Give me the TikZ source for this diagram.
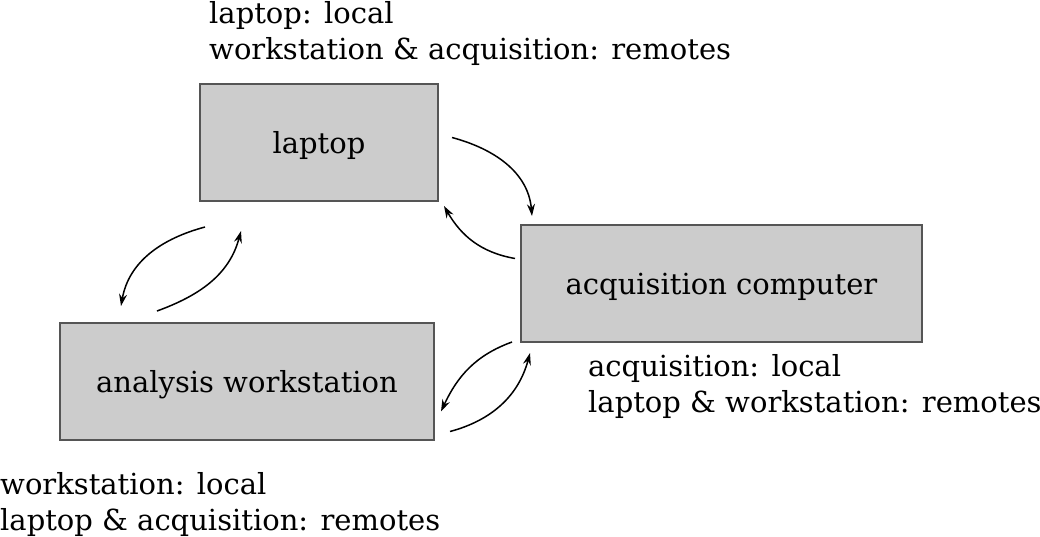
\documentclass[tikz,border=0pt]{standalone}
\usepackage{fontspec}
\setmainfont{DejaVu Serif}
\usetikzlibrary{arrows.meta}
\definecolor{boxFill}{RGB}{204, 204, 204}
\definecolor{boxLine}{RGB}{85, 85, 85}

\begin{document}
\begin{tikzpicture}[x=1pt, y=-1pt,
    every node/.style={font=\fontsize{29}{36}\selectfont},
    machine/.style={draw=boxLine, fill=boxFill, line width=2pt,
      minimum width=238pt, minimum height=117pt, inner sep=0pt, text depth=0pt},
    note/.style={align=left, anchor=north west, inner sep=0pt},
    link/.style={line width=1.5pt, -{Stealth[length=12pt, width=8pt, inset=4pt]}}]
        \useasboundingbox (0,0) rectangle (1040,536);
        \node[machine] (laptop) at (319,142.5) {laptop};
        \node[machine, minimum width=401pt] (acq) at (721.5,283.5) {acquisition computer};
        \node[machine, minimum width=374pt] (ws) at (247,381.5) {analysis workstation};
        \node[note] (laptopnote) at (209,1) {laptop: local\\workstation \& acquisition: remotes};
        \node[note] (acqnote) at (588,354) {acquisition: local\\laptop \& workstation: remotes};
        \node[note] (wsnote) at (0,472) {workstation: local\\laptop \& acquisition: remotes};
        \draw[link] ([xshift=13pt, yshift=5pt]laptop.east) to[out=-15, in=95]
          ([xshift=12pt, yshift=8pt]acq.north west);
        \draw[link] ([xshift=-5pt, yshift=25pt]acq.west) to[out=170, in=-60]
          ([xshift=5pt, yshift=-4pt]laptop.south east);
        \draw[link] ([xshift=6pt, yshift=-25pt]laptop.south west) to[out=195, in=80]
          ([xshift=62pt, yshift=16pt]ws.north west);
        \draw[link] ([xshift=98pt, yshift=11pt]ws.north west) to[out=20, in=-105]
          ([xshift=42pt, yshift=-29pt]laptop.south west);
        \draw[link] ([xshift=-8pt, yshift=1pt]acq.south west) to[out=200, in=65]
          ([xshift=6pt, yshift=-30pt]ws.east);
        \draw[link] ([xshift=15pt, yshift=-50pt]ws.east) to[out=15, in=-105]
          ([xshift=10pt, yshift=-10pt]acq.south west);
      \end{tikzpicture}
\end{document}
